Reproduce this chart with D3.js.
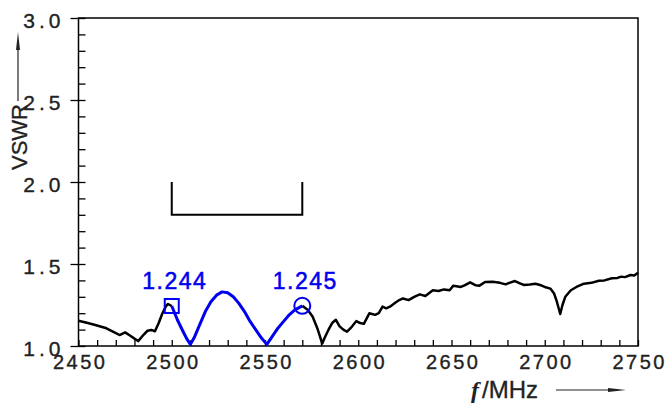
<!DOCTYPE html>
<html>
<head>
<meta charset="utf-8">
<script src="https://cdn.jsdelivr.net/npm/d3@7"></script>
<style>
  html, body { margin: 0; padding: 0; background: #fff; }
  svg { display: block; }
</style>
</head>
<body>
<svg id="chart"></svg>
<script>
// measured VSWR, outside the marked band
const blackLeft = [
  [2450, 1.154], [2455, 1.14], [2459, 1.128], [2465, 1.108], [2469, 1.085], [2472, 1.067],
  [2475, 1.083], [2478, 1.061], [2480, 1.045], [2482, 1.03], [2485, 1.07], [2487, 1.093],
  [2489, 1.098], [2491, 1.09], [2493, 1.14], [2495, 1.20], [2497, 1.245], [2498, 1.256], [2500, 1.244]
];
const blackRight = [
  [2570, 1.245], [2573, 1.22], [2575.5, 1.18], [2578, 1.11], [2580.7, 1.015], [2582, 1.05],
  [2584, 1.098], [2586, 1.14], [2588, 1.16], [2590, 1.12], [2592, 1.10], [2594, 1.087],
  [2596, 1.11], [2599, 1.152], [2601, 1.14], [2603, 1.135], [2606, 1.20], [2609, 1.19],
  [2611, 1.20], [2613, 1.24], [2615, 1.23], [2617, 1.24], [2620, 1.265], [2622, 1.28],
  [2624, 1.29], [2627, 1.28], [2630, 1.30], [2633, 1.315], [2636, 1.305], [2640, 1.34],
  [2643, 1.335], [2646, 1.345], [2649, 1.34], [2651, 1.368], [2655, 1.36], [2657, 1.37],
  [2660, 1.388], [2663, 1.37], [2665, 1.368], [2668, 1.39], [2672, 1.392], [2676, 1.385],
  [2679, 1.376], [2681, 1.385], [2684, 1.396], [2687, 1.38], [2689, 1.372], [2692, 1.375],
  [2695, 1.38], [2698, 1.37], [2700, 1.36], [2703, 1.35], [2705, 1.32], [2706.5, 1.27],
  [2708.3, 1.195], [2709.5, 1.25], [2711, 1.30], [2714, 1.34], [2717, 1.36], [2721, 1.38],
  [2725, 1.385], [2729, 1.398], [2732, 1.40], [2736, 1.413], [2739, 1.415], [2741, 1.423],
  [2743, 1.42], [2746, 1.433], [2748, 1.43], [2750, 1.447]
];
// in-band VSWR (blue)
const bandCurve = [
  [2500, 1.244], [2503, 1.16], [2506, 1.09], [2508, 1.045], [2510, 1.01], [2512, 1.05],
  [2515, 1.13], [2518, 1.21], [2521, 1.27], [2524, 1.31], [2527, 1.33], [2530, 1.325],
  [2533, 1.30], [2536, 1.26], [2539, 1.21], [2542, 1.15], [2545, 1.10], [2548, 1.05],
  [2551, 1.01], [2554, 1.06], [2557, 1.11], [2560, 1.15], [2563, 1.19], [2566, 1.22], [2570, 1.245]
];
const markers = [
  { f: 2500, v: 1.244, shape: "square", label: "1.244" },
  { f: 2570, v: 1.245, shape: "circle", label: "1.245" }
];
// spec mask: VSWR <= 1.8 from 2500 to 2570 MHz
const specBand = [2500, 2570];
const specTop = 2.0, specLimit = 1.8;
const xTicks = [2450, 2500, 2550, 2600, 2650, 2700, 2750];
const yTicks = [1.0, 1.5, 2.0, 2.5, 3.0];

const W = 667, H = 405;
const FONT = "Liberation Sans, Arial, sans-serif";
const svg = d3.select("#chart").attr("width", W).attr("height", H);

const x = d3.scaleLinear().domain([2450, 2750]).range([78.5, 638]);
const y = d3.scaleLinear().domain([1, 3]).range([346, 18]);

// frame
svg.append("rect")
   .attr("x", x(2450)).attr("y", y(3))
   .attr("width", x(2750) - x(2450)).attr("height", y(1) - y(3))
   .attr("fill", "none").attr("stroke", "#000").attr("stroke-width", 1.5);

// y ticks
svg.append("g")
    .attr("transform", `translate(${x(2450)},0)`)
    .call(d3.axisRight(y).tickValues(d3.range(10, 31).map(d => d / 10)).tickSize(7).tickFormat(""));
const yMajor = svg.append("g")
    .attr("transform", `translate(${x(2450)},0)`)
    .call(d3.axisLeft(y).tickValues(yTicks).tickSize(8).tickPadding(10).tickFormat(d3.format(".1f")));
yMajor.selectAll(".tick text")
    .attr("font-family", FONT).attr("font-size", 21).attr("fill", "#222")
    .attr("stroke", "#222").attr("stroke-width", 0.35)
    .attr("dy", "0.45em").attr("letter-spacing", "4px").attr("dx", "4px");

// x ticks
svg.append("g")
    .attr("transform", `translate(0,${y(1)})`)
    .call(d3.axisTop(x).tickValues(d3.range(2450, 2751, 10)).tickSize(6).tickFormat(""));
const xMajor = svg.append("g")
    .attr("transform", `translate(0,${y(1)})`)
    .call(d3.axisBottom(x).tickValues(xTicks).tickSize(0).tickPadding(9).tickFormat(d3.format("d")));
xMajor.selectAll(".tick text")
    .attr("font-family", FONT).attr("font-size", 20).attr("fill", "#222")
    .attr("stroke", "#222").attr("stroke-width", 0.35)
    .attr("letter-spacing", "2.5px").attr("dx", "1.2px");

svg.selectAll(".domain").remove();
svg.selectAll(".tick line").attr("stroke", "#000").attr("stroke-width", 1.3);

// spec bracket
svg.append("path")
   .attr("d", d3.line()([
       [x(specBand[0]), y(specTop)], [x(specBand[0]), y(specLimit)],
       [x(specBand[1]), y(specLimit)], [x(specBand[1]), y(specTop)]
   ]))
   .attr("fill", "none").attr("stroke", "#000").attr("stroke-width", 2);

const line = d3.line().x(d => x(d[0])).y(d => y(d[1]));

[blackLeft, blackRight].forEach(s => {
  svg.append("path").attr("d", line(s))
     .attr("fill", "none").attr("stroke", "#000").attr("stroke-width", 2.5)
     .attr("stroke-linejoin", "round");
});
svg.append("path").attr("d", line(bandCurve))
   .attr("fill", "none").attr("stroke", "#0000ee").attr("stroke-width", 3)
   .attr("stroke-linejoin", "round");

// markers
markers.forEach(m => {
  const cx = x(m.f), cy = y(m.v);
  if (m.shape === "square") {
    svg.append("rect").attr("x", cx - 7).attr("y", cy - 7).attr("width", 14).attr("height", 14)
       .attr("fill", "none").attr("stroke", "#0000ee").attr("stroke-width", 2);
  } else {
    svg.append("circle").attr("cx", cx).attr("cy", cy).attr("r", 8)
       .attr("fill", "none").attr("stroke", "#0000ee").attr("stroke-width", 2);
  }
  svg.append("text")
     .attr("x", cx + 3).attr("y", cy - 17)
     .attr("text-anchor", "middle")
     .attr("font-family", FONT)
     .attr("font-size", 23).attr("letter-spacing", "1.5px")
     .attr("fill", "#0000ee").attr("stroke", "#0000ee").attr("stroke-width", 0.5)
     .text(m.label);
});

// axis titles with arrows
svg.append("text")
   .attr("transform", "translate(27,137) rotate(-90)")
   .attr("text-anchor", "middle")
   .attr("font-family", FONT)
   .attr("font-size", 22).attr("fill", "#222")
   .attr("stroke", "#222").attr("stroke-width", 0.3)
   .text("VSWR");
svg.append("line").attr("x1", 18).attr("x2", 18).attr("y1", 101).attr("y2", 40)
   .attr("stroke", "#222").attr("stroke-width", 1.2);
svg.append("path").attr("d", "M18,32 L20,50 L16,50 Z").attr("fill", "#222");

const fLabel = svg.append("text")
   .attr("x", 471).attr("y", 398)
   .attr("font-size", 24).attr("fill", "#222");
fLabel.append("tspan")
   .attr("font-family", "Liberation Serif, Times New Roman, serif")
   .attr("font-style", "italic").attr("font-weight", "bold")
   .text("f");
fLabel.append("tspan")
   .attr("dx", 3)
   .attr("font-family", FONT)
   .attr("stroke", "#222").attr("stroke-width", 0.3)
   .text("/MHz");
svg.append("line").attr("x1", 556).attr("x2", 618).attr("y1", 390).attr("y2", 390)
   .attr("stroke", "#222").attr("stroke-width", 1.2);
svg.append("path").attr("d", "M626,390 L608,388 L608,392 Z").attr("fill", "#222");
</script>
</body>
</html>
